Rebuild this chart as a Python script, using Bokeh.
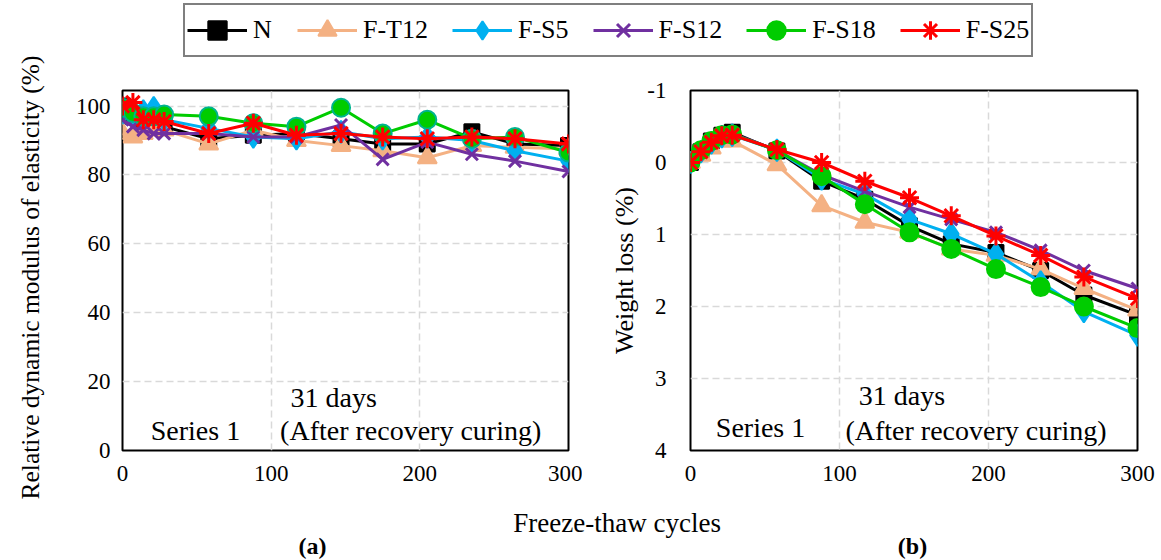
import math
from bokeh.plotting import figure
from bokeh.models import Range1d, FixedTicker, Legend, LegendItem, Label
from bokeh.layouts import column, row
from bokeh.embed import file_html
from bokeh.resources import INLINE

# ---------------- data ----------------
cycles = [0, 7, 14, 21, 28, 58, 88, 117, 147, 175, 205, 235, 264, 300]
series = ["N", "F-T12", "F-S5", "F-S12", "F-S18", "F-S25"]

# (a) relative dynamic modulus of elasticity (%)
rdm_N     = [100, 97, 95, 94.5, 94, 90.5, 91.5, 92, 90.5, 89, 89, 92.5, 89, 88.5]
rdm_FT12  = [92, 91, 92, 93, 93, 89, 93, 90, 88.5, 87, 85, 88.5, 88, 87.5]
rdm_FS5   = [98, 97, 98.5, 99.5, 96, 93.5, 91, 90.5, 92.5, 90.5, 91, 90, 87, 84]
rdm_FS12  = [96, 94, 93, 92, 92, 92, 91, 91, 94.5, 84.5, 89.5, 86, 84, 81]
rdm_FS18  = [99.5, 98, 97, 97, 97.5, 97, 95, 94, 99.5, 92, 96, 90.5, 91, 86.5]
rdm_FS25  = [100, 101, 96, 96, 95.5, 92, 95, 91.5, 92, 91, 90.5, 91, 90.5, 89]

# (b) weight loss (%)
wl_N      = [0, -0.15, -0.3, -0.38, -0.42, -0.16, 0.26, 0.51, 0.88, 1.13, 1.25, 1.5, 1.84, 2.12]
wl_FT12   = [0, -0.1, -0.2, -0.3, -0.3, 0.03, 0.6, 0.83, 0.97, 1.2, 1.29, 1.48, 1.75, 2.05]
wl_FS5    = [0, -0.15, -0.27, -0.36, -0.38, -0.17, 0.23, 0.44, 0.79, 0.99, 1.27, 1.66, 2.07, 2.4]
wl_FS12   = [0, -0.16, -0.28, -0.38, -0.4, -0.17, 0.17, 0.4, 0.62, 0.79, 0.97, 1.22, 1.5, 1.75]
wl_FS18   = [0, -0.17, -0.3, -0.38, -0.39, -0.17, 0.19, 0.58, 0.97, 1.2, 1.48, 1.73, 2.0, 2.3]
wl_FS25   = [0, -0.15, -0.28, -0.37, -0.38, -0.18, 0.0, 0.26, 0.49, 0.74, 1.02, 1.29, 1.59, 1.89]

x_ticks = [0, 100, 200, 300]
rdm_ticks = [0, 20, 40, 60, 80, 100]
wl_ticks = [-1, 0, 1, 2, 3, 4]

rdm = dict(zip(series, [rdm_N, rdm_FT12, rdm_FS5, rdm_FS12, rdm_FS18, rdm_FS25]))
wl = dict(zip(series, [wl_N, wl_FT12, wl_FS5, wl_FS12, wl_FS18, wl_FS25]))

FONT = "Liberation Serif"
styles = {
    "N":     dict(color="#000000", marker="square",   size=15),
    "F-T12": dict(color="#f4b183", marker="triangle", size=19),
    "F-S5":  dict(color="#00b0f0", marker="diamond",  size=22),
    "F-S12": dict(color="#7030a0", marker="x",        size=17),
    "F-S18": dict(color="#00cc00", marker="circle",   size=18),
    "F-S25": dict(color="#ff0000", marker="asterisk", size=19),
}


def blank(width, height, xr=None, yr=None):
    p = figure(width=width, height=height,
               x_range=xr if xr is not None else Range1d(0, width),
               y_range=yr if yr is not None else Range1d(0, height),
               toolbar_location=None, output_backend="svg", min_border=0,
               x_axis_location=None, y_axis_location=None)
    p.grid.visible = False
    p.outline_line_color = None
    return p


def add_series(p, data, circle_edge):
    rends = {}
    for s in series:
        st = styles[s]
        ln = p.line(cycles, data[s], line_color=st["color"], line_width=3)
        edge = circle_edge if s == "F-S18" else st["color"]
        sc = p.scatter(cycles, data[s], marker=st["marker"], size=st["size"],
                       fill_color=st["color"], line_color=edge,
                       line_width=3 if st["marker"] in ("x", "asterisk") else 2)
        rends[s] = [ln, sc]
    return rends


def make_panel(width, bl, br, bt, bb, yr, yticks, ystand):
    p = figure(width=width, height=440, x_range=Range1d(0, 300), y_range=yr,
               toolbar_location=None, output_backend="svg",
               min_border_left=bl, min_border_right=br, min_border_top=bt, min_border_bottom=bb)
    p.outline_line_color = "black"
    p.outline_line_width = 2
    for ax in (p.xaxis[0], p.yaxis[0]):
        ax.axis_line_color = None
        ax.major_tick_line_color = None
        ax.minor_tick_line_color = None
        ax.major_label_text_font = FONT
        ax.major_label_text_font_size = "23px"
        ax.major_label_text_color = "black"
    p.xaxis.ticker = FixedTicker(ticks=x_ticks)
    p.yaxis.ticker = FixedTicker(ticks=yticks)
    p.yaxis.major_label_overrides = {t: str(t) for t in yticks}
    p.xaxis.major_label_standoff = 9
    p.yaxis.major_label_standoff = ystand
    for g in (p.xgrid[0], p.ygrid[0]):
        g.grid_line_color = "#d9d9d9"
        g.grid_line_width = 1.5
        g.grid_line_dash = "7 4"
    p.xgrid.ticker = FixedTicker(ticks=x_ticks)
    p.ygrid.ticker = FixedTicker(ticks=yticks)
    return p


# ---- panels ----
pa = make_panel(527, 67, 14, 28, 50, Range1d(0, 104.5), rdm_ticks, 6)
add_series(pa, rdm, "#00b38f")
pb = make_panel(579, 108, 24, 30, 48, Range1d(4, -1), wl_ticks, 18)
add_series(pb, wl, "#00cc00")
pb.yaxis.axis_label = "Weight loss (%)"
pb.yaxis.axis_label_text_font = FONT
pb.yaxis.axis_label_text_font_size = "26px"
pb.yaxis.axis_label_text_font_style = "normal"
pb.yaxis.axis_label_text_color = "black"
pb.yaxis.axis_label_standoff = 5


def txt(p, x, y, t):
    p.add_layout(Label(x=x, y=y, text=t, text_font=FONT, text_font_size="28px",
                       text_baseline="middle", text_color="black"))

txt(pa, 19, 5.8, "Series 1")
txt(pa, 113, 15.3, "31 days")
txt(pa, 106, 5.8, "(After recovery curing)")
txt(pb, 17, 3.68, "Series 1")
txt(pb, 113, 3.24, "31 days")
txt(pb, 104, 3.72, "(After recovery curing)")

# ---- left strip with the y title of panel (a) ----
pt = blank(55, 560)
pt.add_layout(Label(x=30, y=283, text="Relative dynamic modulus of elasticity (%)", angle=math.pi / 2,
                    text_font=FONT, text_font_size="25.5px", text_align="center",
                    text_baseline="middle", text_color="black"))

# ---- legend strip (its renderers hold the series but lie outside its visible range) ----
pl = blank(1106, 60, xr=Range1d(-2000, -1000), yr=Range1d(-2000, -1000))
leg_items = []
for s in series:
    st = styles[s]
    ln = pl.line(cycles, wl[s], line_color=st["color"], line_width=3)
    sc = pl.scatter(cycles, wl[s], marker=st["marker"], size=st["size"], fill_color=st["color"],
                    line_color=st["color"], line_width=3 if st["marker"] in ("x", "asterisk") else 2)
    leg_items.append(LegendItem(label=s, renderers=[ln, sc]))
legend = Legend(items=leg_items, location=(128, 3), orientation="horizontal",
                glyph_width=60, glyph_height=46, label_standoff=6, spacing=24, padding=2,
                border_line_color="black", border_line_width=2, background_fill_color="white",
                label_text_font=FONT, label_text_font_size="26px", label_text_color="black")
pl.add_layout(legend)

# ---- bottom strip ----
pc = blank(1106, 60)
pc.add_layout(Label(x=565, y=38, text="Freeze-thaw  cycles", text_font=FONT, text_font_size="27px",
                    text_align="center", text_baseline="middle", text_color="black"))
for x, t in ((257, "(a)"), (857, "(b)")):
    pc.add_layout(Label(x=x, y=15, text=t, text_font=FONT, text_font_size="24px",
                        text_font_style="bold", text_align="center", text_baseline="middle",
                        text_color="black"))

layout = row(pt, column(pl, row(pa, pb), pc))
open("out.html", "w").write(file_html(layout, INLINE))
